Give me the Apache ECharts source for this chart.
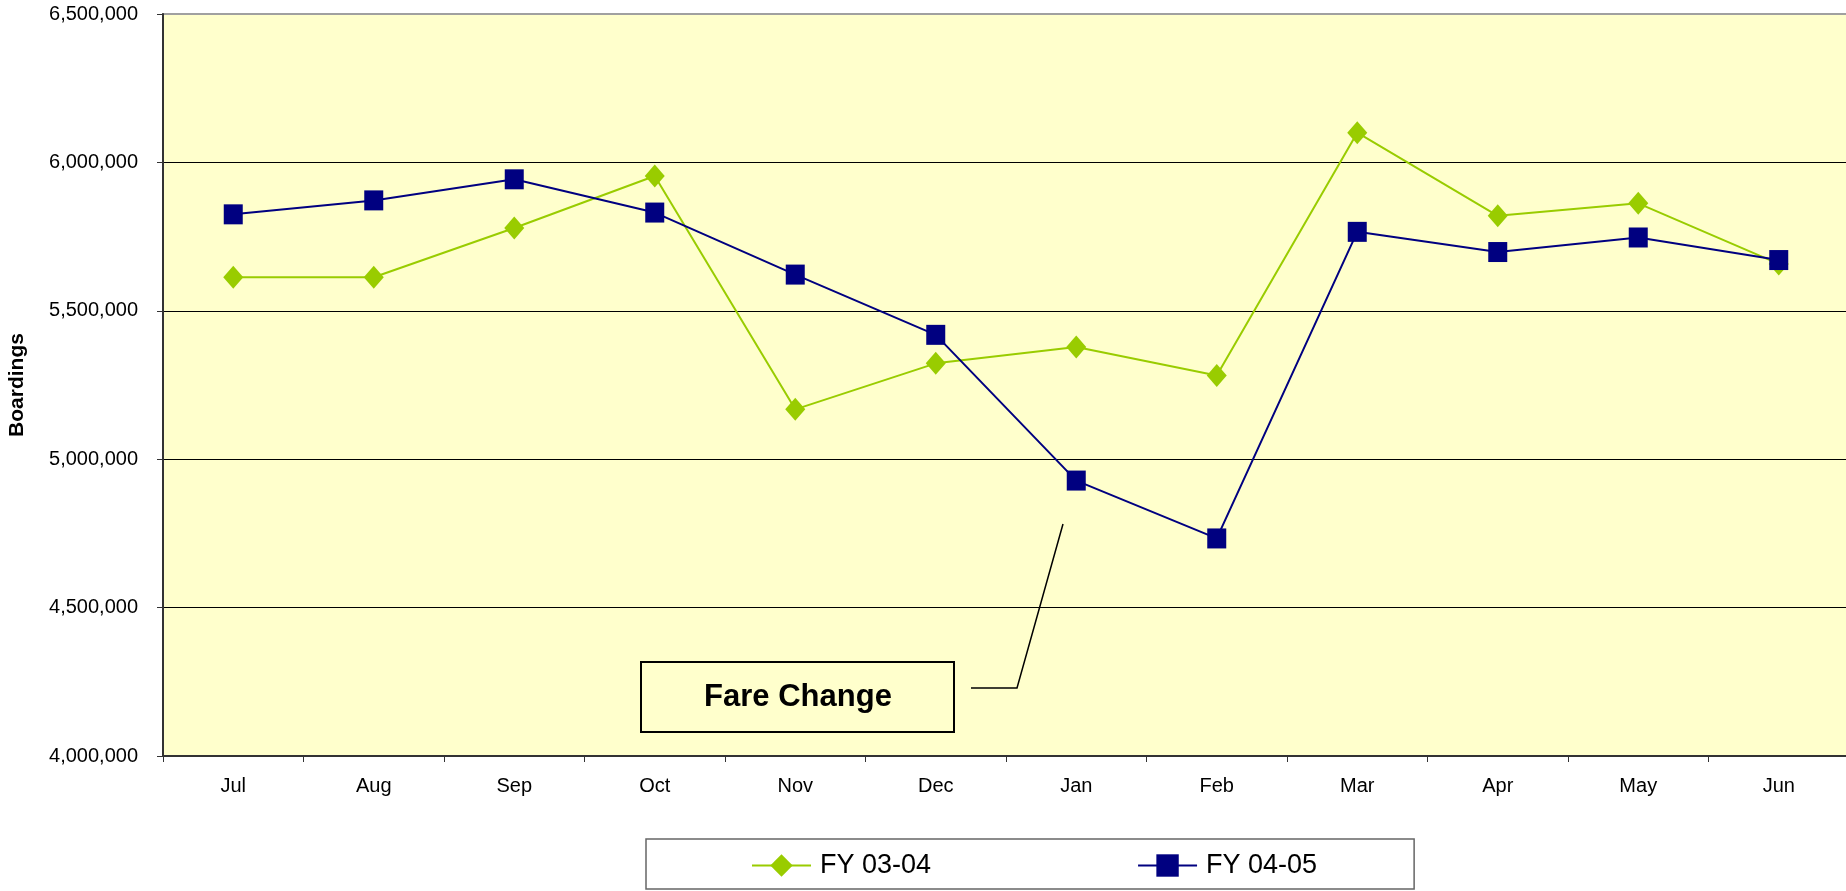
<!DOCTYPE html>
<html>
<head>
<meta charset="utf-8">
<script src="https://cdn.jsdelivr.net/npm/echarts@6/dist/echarts.min.js"></script>
<style>
  html, body { margin: 0; padding: 0; background: #ffffff; }
  #chart { width: 1846px; height: 891px; }
</style>
</head>
<body>
<div id="chart"></div>
<script>
// ---- Data ----
const months = ['Jul', 'Aug', 'Sep', 'Oct', 'Nov', 'Dec', 'Jan', 'Feb', 'Mar', 'Apr', 'May', 'Jun'];
const fy0304 = [5613000, 5613000, 5779000, 5954000, 5168000, 5323000, 5378000, 5282000, 6100000, 5820000, 5862000, 5658000];
const fy0405 = [5825000, 5872000, 5943000, 5831000, 5622000, 5419000, 4928000, 4733000, 5766000, 5698000, 5747000, 5671000];
const seriesNames = ['FY 03-04', 'FY 04-05'];
const yAxisTitle = 'Boardings';
const annotationText = 'Fare Change';

const FONT = "'Liberation Sans', Arial, sans-serif";

const chart = echarts.init(document.getElementById('chart'), null, { renderer: 'canvas' });

function fmt(v) {
  return String(v).replace(/\B(?=(\d{3})+(?!\d))/g, ',');
}

const option = {
  backgroundColor: '#ffffff',
  animation: false,
  grid: {
    left: 163,
    top: 14,
    width: 1686,
    height: 742,
    containLabel: false,
    outerBoundsMode: 'none',
    show: true,
    backgroundColor: '#FFFFCC',
    borderColor: '#a0a0a0',
    borderWidth: 2
  },
  legend: {
    data: seriesNames,
    left: 646,
    top: 839,
    orient: 'horizontal',
    padding: [13, 97, 10, 105],
    itemWidth: 59,
    itemHeight: 28,
    itemGap: 206,
    borderColor: '#666',
    borderWidth: 1.5,
    textStyle: {
      fontFamily: FONT,
      fontSize: 27,
      color: '#000',
      padding: [0, 0, 0, 4]
    }
  },
  xAxis: {
    type: 'category',
    data: months,
    boundaryGap: true,
    axisLine: { show: true, lineStyle: { color: '#333', width: 2 } },
    axisTick: { show: true, length: 6, lineStyle: { color: '#333', width: 1 } },
    axisLabel: { fontFamily: FONT, fontSize: 20, color: '#000', margin: 20 },
    splitLine: { show: false }
  },
  yAxis: {
    type: 'value',
    min: 4000000,
    max: 6500000,
    interval: 500000,
    name: yAxisTitle,
    nameLocation: 'middle',
    nameGap: 135,
    nameTextStyle: { fontFamily: FONT, fontSize: 21, fontWeight: 'bold', color: '#000' },
    axisLine: { show: true, lineStyle: { color: '#333', width: 2 } },
    axisTick: { show: true, length: 6, lineStyle: { color: '#333', width: 1 } },
    axisLabel: { fontFamily: FONT, fontSize: 20, color: '#000', margin: 25, formatter: fmt },
    splitLine: {
      show: true,
      lineStyle: { color: ['#000', '#000', '#000', '#000', '#000', '#a0a0a0'], width: 1 }
    }
  },
  series: [
    {
      name: seriesNames[0],
      type: 'line',
      data: fy0304,
      symbol: 'diamond',
      symbolSize: [20, 23],
      lineStyle: { color: '#99CC00', width: 2 },
      itemStyle: { color: '#99CC00' },
      z: 2
    },
    {
      name: seriesNames[1],
      type: 'line',
      data: fy0405,
      symbol: 'rect',
      symbolSize: [19, 20],
      lineStyle: { color: '#000080', width: 2 },
      itemStyle: { color: '#000080' },
      z: 3
    }
  ],
  graphic: [
    {
      type: 'polyline',
      shape: { points: [[971, 688], [1017, 688], [1063, 524]] },
      style: { stroke: '#000', lineWidth: 1.5, fill: null },
      z: 10
    },
    {
      type: 'rect',
      shape: { x: 641, y: 662, width: 313, height: 70 },
      style: { fill: '#FFFFCC', stroke: '#000', lineWidth: 2 },
      z: 10
    },
    {
      type: 'text',
      x: 798,
      y: 697,
      style: {
        text: annotationText,
        fontFamily: FONT,
        fontSize: 31,
        fontWeight: 'bold',
        fill: '#000',
        align: 'center',
        verticalAlign: 'middle'
      },
      z: 11
    }
  ]
};

chart.setOption(option);
</script>
</body>
</html>
